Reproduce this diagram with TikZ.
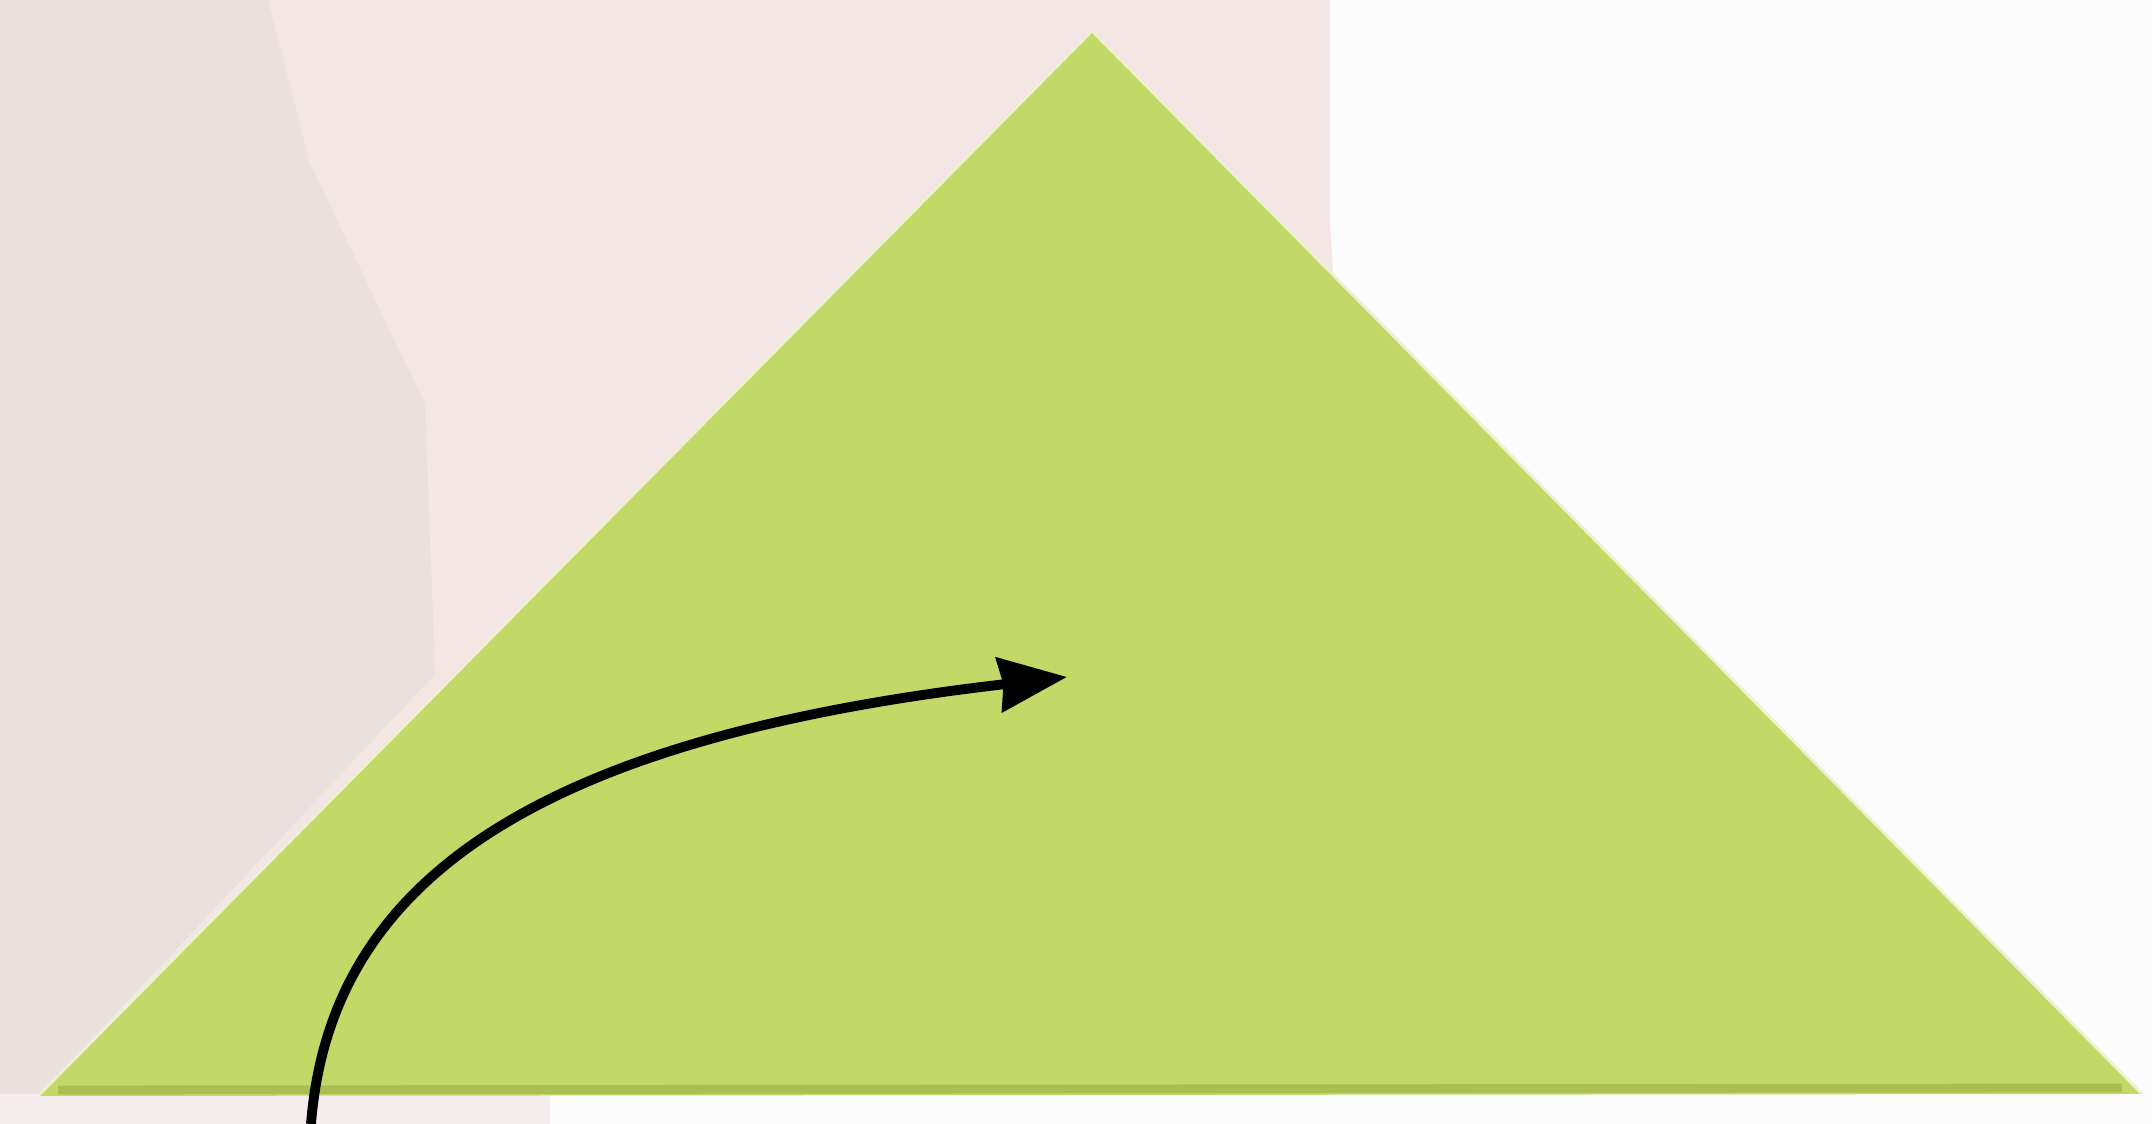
\documentclass[tikz,border=0pt]{standalone}
\usepackage{tikz}
\usetikzlibrary{arrows.meta}

\definecolor{bgleft}{HTML}{EAE0DD}
\definecolor{bgmid}{HTML}{F3E6E4}
\definecolor{bglow}{HTML}{F5EDEB}
\definecolor{bgright}{HTML}{FDFCFC}
\definecolor{leaf}{HTML}{C3D967}
\definecolor{leafdark}{HTML}{A9BF52}
\definecolor{leafrim}{HTML}{EDF1CF}

\begin{document}
\begin{tikzpicture}[scale=1]
\useasboundingbox (0,0) rectangle (21.52,11.24);
% backdrop
\fill [bgmid] (0,0) rectangle (21.52,11.24);
\fill [bgleft] (0,0.3) -- (0,11.24) -- (2.68,11.24) -- (3.1,9.6) -- (4.25,7.2) -- (4.35,4.5) -- (0.4,0.3) -- cycle;
\fill [bglow] (0,0) rectangle (5.5,0.3);
\fill [bgright] (13.3,11.24) -- (21.52,11.24) -- (21.52,0) -- (5.5,0) -- (5.5,0.3) -- (13.5,6.0) -- (13.3,9.0) -- cycle;

\coordinate (top) at (10.92,10.93);
\coordinate (left) at (0.38,0.28);
\coordinate (right) at (21.42,0.30);
\coordinate (start) at (3.11,0);
\coordinate (tip) at (10.67,4.47);

% green sheet
\fill [leaf] (top) -- (left) -- (right) -- cycle;
\draw [leafrim,line width=0.8pt] (left) -- (top) -- (right);
\draw [leafdark,line width=2.5pt] ([xshift=2mm,yshift=0.6mm]left) -- ([xshift=-2mm,yshift=0.6mm]right);

% turning arrow
\draw [black,line width=2.8pt,-{Stealth[length=6.8mm,width=5.4mm,inset=0.4mm]}]
  (start) .. controls (3.3,2.4) and (5.3,3.85) .. (tip);
\end{tikzpicture}
\end{document}
